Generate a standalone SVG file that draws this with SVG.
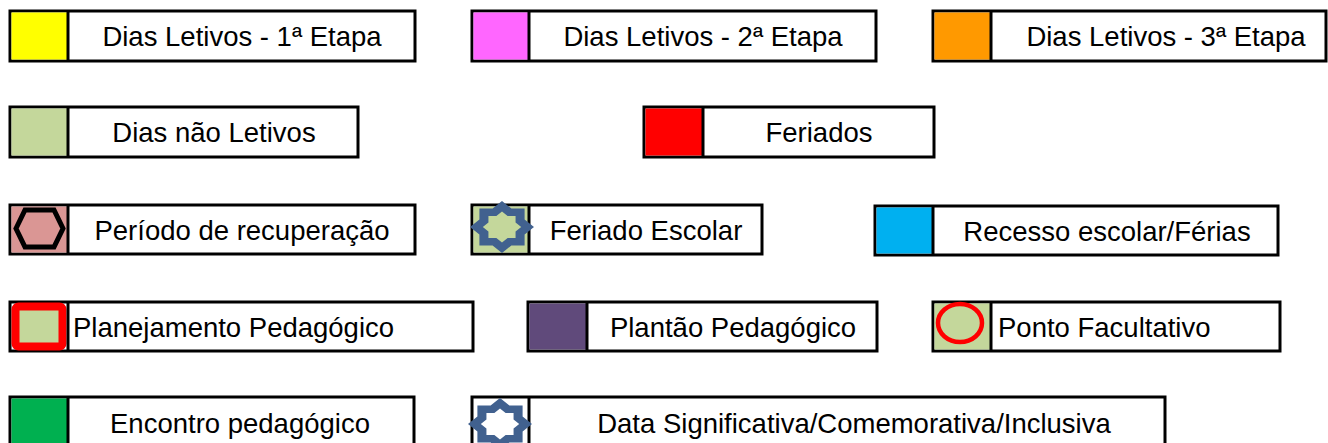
<svg xmlns="http://www.w3.org/2000/svg" width="1328" height="443" viewBox="0 0 1328 443">
<style>
.box{fill:#fff;stroke:#000;stroke-width:3}
.div{stroke:#000;stroke-width:3}
.lbl{font-family:"Liberation Sans",Arial,sans-serif;font-size:27.5px;fill:#000}
.mid{text-anchor:middle}
</style>
<defs>
<polygon id="star8o" points="0,-26 9.4,-18.4 22.6,-18.4 22.6,-7.6 32,0 22.6,7.6 22.6,18.4 9.4,18.4 0,26 -9.4,18.4 -22.6,18.4 -22.6,7.6 -32,0 -22.6,-7.6 -22.6,-18.4 -9.4,-18.4"/>
</defs>
<rect width="1328" height="443" fill="#fff"/>
<g id="n1">
<rect class="box" x="10" y="11" width="405" height="50"/>
<rect x="11.5" y="12.5" width="56.5" height="47" fill="#FFFF00"/>
<line class="div" x1="68" y1="11" x2="68" y2="61"/>
<text class="lbl mid" x="242" y="45.5">Dias Letivos - 1ª Etapa</text>
</g>
<g id="n2">
<rect class="box" x="472" y="11" width="404" height="50"/>
<rect x="473.5" y="12.5" width="55.5" height="47" fill="#FF66FF"/>
<line class="div" x1="529" y1="11" x2="529" y2="61"/>
<text class="lbl mid" x="703" y="45.5">Dias Letivos - 2ª Etapa</text>
</g>
<g id="n3">
<rect class="box" x="933" y="11" width="393" height="50"/>
<rect x="934.5" y="12.5" width="56.5" height="47" fill="#FF9900"/>
<line class="div" x1="991" y1="11" x2="991" y2="61"/>
<text class="lbl mid" x="1166" y="45.5">Dias Letivos - 3ª Etapa</text>
</g>
<g id="n4">
<rect class="box" x="10" y="107" width="348" height="50"/>
<rect x="11.5" y="108.5" width="56.5" height="47" fill="#C4D79B"/>
<line class="div" x1="68" y1="107" x2="68" y2="157"/>
<text class="lbl mid" x="214" y="142">Dias não Letivos</text>
</g>
<g id="n5">
<rect class="box" x="644" y="107" width="290" height="50"/>
<rect x="645.5" y="108.5" width="57.5" height="47" fill="#FF0000"/>
<line class="div" x1="703" y1="107" x2="703" y2="157"/>
<text class="lbl mid" x="819" y="142">Feriados</text>
</g>
<g id="n6">
<rect class="box" x="10" y="205" width="405" height="49"/>
<rect x="11.5" y="206.5" width="56.5" height="46" fill="#DA9694"/>
<polygon points="16,228.5 25,210 54,210 63,228.5 54,247 25,247" fill="#DA9694" stroke="#000" stroke-width="5" stroke-linejoin="miter"/>
<line class="div" x1="68" y1="205" x2="68" y2="254"/>
<text class="lbl mid" x="242" y="239.5">Período de recuperação</text>
</g>
<g id="n7">
<rect class="box" x="472" y="205" width="290" height="49"/>
<rect x="473.5" y="206.5" width="55.5" height="46" fill="#C4D79B"/>
<line class="div" x1="529" y1="205" x2="529" y2="254"/>
<use href="#star8o" transform="translate(502,227)" fill="#41618F"/>
<use href="#star8o" transform="translate(502,227) scale(0.6)" fill="#C4D79B"/>
<text class="lbl mid" x="646" y="239.5">Feriado Escolar</text>
</g>
<g id="n8">
<rect class="box" x="875" y="206" width="403" height="49"/>
<rect x="876.5" y="207.5" width="56.5" height="46" fill="#00B0F0"/>
<line class="div" x1="933" y1="206" x2="933" y2="255"/>
<text class="lbl mid" x="1107" y="240.5">Recesso escolar/Férias</text>
</g>
<g id="n9">
<rect class="box" x="10" y="302" width="463" height="49"/>
<rect x="15.5" y="306.5" width="47" height="40" rx="3" fill="#C4D79B" stroke="#FF0000" stroke-width="8"/>
<line class="div" x1="68" y1="302" x2="68" y2="351"/>
<text class="lbl" x="73" y="336.5">Planejamento Pedagógico</text>
</g>
<g id="n10">
<rect class="box" x="528" y="302" width="349" height="49"/>
<rect x="529.5" y="303.5" width="57.5" height="46" fill="#604A7B"/>
<line class="div" x1="587" y1="302" x2="587" y2="351"/>
<text class="lbl mid" x="733" y="336.5">Plantão Pedagógico</text>
</g>
<g id="n11">
<rect class="box" x="933" y="302" width="347" height="49"/>
<rect x="934.5" y="303.5" width="56.5" height="46" fill="#C4D79B"/>
<ellipse cx="960" cy="323" rx="22" ry="19" fill="#C4D79B" stroke="#FF0000" stroke-width="4.5"/>
<line class="div" x1="991" y1="302" x2="991" y2="351"/>
<text class="lbl" x="998" y="336.5">Ponto Facultativo</text>
</g>
<g id="n12">
<rect class="box" x="10" y="397" width="404" height="52"/>
<rect x="11.5" y="398.5" width="56.5" height="49" fill="#00B050"/>
<line class="div" x1="68" y1="397" x2="68" y2="449"/>
<text class="lbl mid" x="240" y="432.5">Encontro pedagógico</text>
</g>
<g id="n13">
<rect class="box" x="472" y="397" width="693" height="52"/>
<line class="div" x1="529" y1="397" x2="529" y2="449"/>
<use href="#star8o" transform="translate(500,424)" fill="#41618F"/>
<use href="#star8o" transform="translate(500,424) scale(0.6)" fill="#fff"/>
<text class="lbl mid" x="854" y="432.5">Data Significativa/Comemorativa/Inclusiva</text>
</g>
<g id="connectors"></g>
</svg>
